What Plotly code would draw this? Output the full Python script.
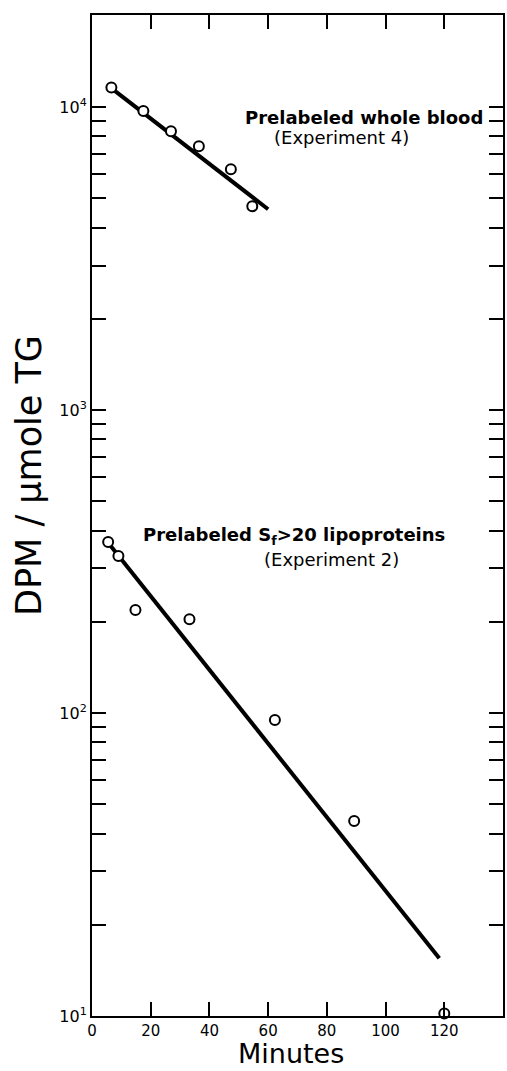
import plotly.graph_objects as go

# ---- data ----
wb_minutes = [6.6, 17.5, 26.9, 36.4, 47.3, 54.6]
wb_dpm = [11600, 9700, 8330, 7430, 6240, 4710]
wb_fit_minutes = [7, 60]
wb_fit_dpm = [11470, 4600]

sf_minutes = [5.5, 9.0, 14.8, 33.2, 62.3, 89.3, 120]
sf_dpm = [367, 330, 219, 204, 94.8, 44, 10.2]
sf_fit_minutes = [5.5, 118.3]
sf_fit_dpm = [365, 15.5]

x_tickvals = [0, 20, 40, 60, 80, 100, 120]
x_ticktext = ["0", "20", "40", "60", "80", "100", "120"]

decades = [10, 100, 1000, 10000]
decade_labels = ["10<sup>1</sup>", "10<sup>2</sup>", "10<sup>3</sup>", "10<sup>4</sup>"]
minor_multipliers = [2, 3, 4, 5, 6, 7, 8, 9]

y_minor_vals = [d * m for d in decades for m in minor_multipliers if d * m < 20000]

FONT = "DejaVu Sans"

fig = go.Figure()

fig.add_trace(go.Scatter(x=wb_fit_minutes, y=wb_fit_dpm, mode="lines",
                         line=dict(color="black", width=4), showlegend=False))
fig.add_trace(go.Scatter(x=sf_fit_minutes, y=sf_fit_dpm, mode="lines",
                         line=dict(color="black", width=4), showlegend=False))
fig.add_trace(go.Scatter(x=wb_minutes, y=wb_dpm, mode="markers",
                         marker=dict(symbol="circle", size=10, color="white",
                                     line=dict(color="black", width=2)),
                         showlegend=False, cliponaxis=False))
fig.add_trace(go.Scatter(x=sf_minutes, y=sf_dpm, mode="markers",
                         marker=dict(symbol="circle", size=10, color="white",
                                     line=dict(color="black", width=2)),
                         showlegend=False, cliponaxis=False))

fig.update_layout(
    width=507, height=1071,
    margin=dict(l=92, r=2, t=15, b=55),
    paper_bgcolor="white", plot_bgcolor="white",
    font=dict(family=FONT, color="black"),
    xaxis=dict(range=[0, 140], tickmode="array", tickvals=x_tickvals, ticktext=x_ticktext,
               ticks="inside", ticklen=14, tickwidth=2, tickcolor="black",
               showline=True, linewidth=2, linecolor="black", mirror="ticks",
               showgrid=False, zeroline=False,
               tickfont=dict(family=FONT, size=15, color="black")),
    yaxis=dict(type="log", range=[1, 4.304], tickmode="array",
               tickvals=decades, ticktext=decade_labels,
               ticks="inside", ticklen=14, tickwidth=2, tickcolor="black",
               showline=True, linewidth=2, linecolor="black", mirror="ticks",
               showgrid=False, zeroline=False,
               minor=dict(tickmode="array", tickvals=y_minor_vals, ticks="inside",
                          ticklen=14, tickwidth=2, tickcolor="black", showgrid=False),
               tickfont=dict(family=FONT, size=16, color="black")),
    annotations=[
        dict(text="<b>Prelabeled whole blood</b>", x=92.7, y=3.967, xref="x", yref="y",
             showarrow=False, xanchor="center", yanchor="middle",
             font=dict(family=FONT, size=18, color="black")),
        dict(text="(Experiment 4)", x=85.1, y=3.901, xref="x", yref="y",
             showarrow=False, xanchor="center", yanchor="middle",
             font=dict(family=FONT, size=18, color="black")),
        dict(text="<b>Prelabeled S<sub>f</sub>>20 lipoproteins</b>", x=68.8, y=2.584,
             xref="x", yref="y", showarrow=False, xanchor="center", yanchor="middle",
             font=dict(family=FONT, size=18, color="black")),
        dict(text="(Experiment 2)", x=81.5, y=2.508, xref="x", yref="y",
             showarrow=False, xanchor="center", yanchor="middle",
             font=dict(family=FONT, size=18, color="black")),
        dict(text="DPM / μmole TG", x=-0.152, y=0.540, xref="paper", yref="paper",
             showarrow=False, xanchor="center", yanchor="middle", textangle=-90,
             font=dict(family=FONT, size=35, color="black")),
        dict(text="Minutes", x=0.485, y=-0.0375, xref="paper", yref="paper",
             showarrow=False, xanchor="center", yanchor="middle",
             font=dict(family=FONT, size=27, color="black")),
    ],
)

fig.write_html("out.html")
